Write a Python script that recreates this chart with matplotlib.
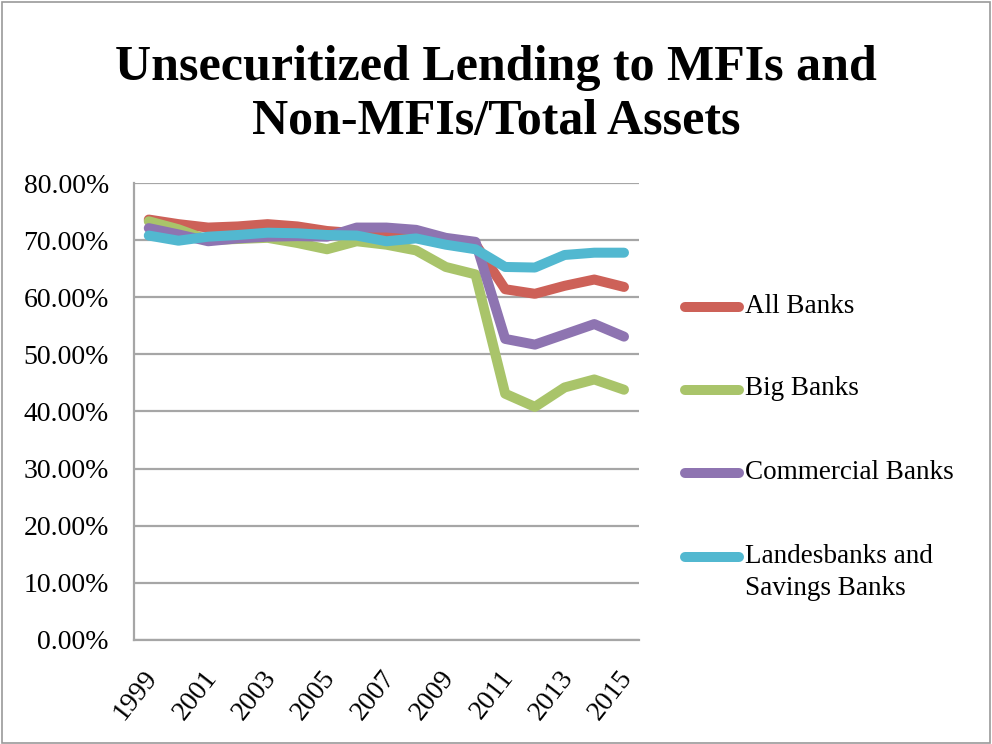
import matplotlib
matplotlib.use("Agg")
import matplotlib.pyplot as plt
from matplotlib.lines import Line2D
from matplotlib.patches import Rectangle
from matplotlib.ticker import FuncFormatter, MultipleLocator
from matplotlib.transforms import ScaledTranslation

years = list(range(1999, 2016))
tick_years = [y for y in years if (y - 1999) % 2 == 0]

all_banks = [73.6, 72.8, 72.2, 72.4, 72.8, 72.4, 71.6, 71.2, 70.9, 71.0, 70.2, 69.3,
             61.4, 60.6, 62.0, 63.1, 61.8]
big_banks = [73.3, 71.9, 70.0, 70.2, 70.4, 69.5, 68.4, 69.8, 69.2, 68.2, 65.3, 64.0,
             43.1, 40.8, 44.2, 45.6, 43.8]
commercial_banks = [72.1, 71.0, 69.8, 70.3, 70.6, 70.7, 70.6, 72.2, 72.2, 71.8, 70.4, 69.7,
                    52.7, 51.7, 53.5, 55.3, 53.1]
landesbanks = [70.8, 69.9, 70.6, 70.9, 71.3, 71.2, 70.9, 70.8, 69.8, 70.3, 69.2, 68.4,
               65.3, 65.2, 67.4, 67.8, 67.8]

series_labels = ["All Banks", "Big Banks", "Commercial Banks", "Landesbanks and\nSavings Banks"]
series_values = [all_banks, big_banks, commercial_banks, landesbanks]
series_colors = ["#CD6158", "#A9C46A", "#8E74B1", "#52B8D0"]

title_text = "Unsecuritized Lending to MFIs and\nNon-MFIs/Total Assets"

serif = ["Liberation Serif", "DejaVu Serif"]
plt.rcParams["font.family"] = serif

fig = plt.figure(figsize=(9.92, 7.44), dpi=100)
fig.patch.set_facecolor("white")
fig.patches.append(Rectangle((0.002, 0.002), 0.996, 0.995, transform=fig.transFigure,
                             fill=False, edgecolor="#9A9A9A", linewidth=1.2))

ax = fig.add_axes([0.135, 0.140, 0.509, 0.614])

x_idx = list(range(len(years)))
for vals, col in zip(series_values, series_colors):
    ax.plot(x_idx, vals, color=col, linewidth=7.2, solid_capstyle="round",
            solid_joinstyle="round", zorder=3)

ax.set_xlim(-0.5, len(years) - 0.5)
ax.set_ylim(0, 80)
ax.yaxis.set_major_locator(MultipleLocator(10))
ax.yaxis.set_major_formatter(FuncFormatter(lambda v, p: f"{v:.2f}%"))
ax.grid(axis="y", color="#A6A6A6", linewidth=1.6, zorder=1)
ax.set_axisbelow(True)

for side in ["top", "right"]:
    ax.spines[side].set_visible(False)
for side in ["left", "bottom"]:
    ax.spines[side].set_color("#A6A6A6")
    ax.spines[side].set_linewidth(1.6)

ax.set_xticks([years.index(y) for y in tick_years])
ax.set_xticklabels([str(y) for y in tick_years], rotation=52, ha="right", va="center",
                   rotation_mode="anchor", fontsize=20)
ax.tick_params(axis="x", length=0, pad=24)
ax.tick_params(axis="y", length=0, pad=18, labelsize=20)
shift = ScaledTranslation(4 / 100, 0, fig.dpi_scale_trans)
for lbl in ax.get_xticklabels():
    lbl.set_transform(lbl.get_transform() + shift)

# legend drawn to the right of the plot
legend_y = [0.587, 0.476, 0.364, 0.251]
for lab, col, yy in zip(series_labels, series_colors, legend_y):
    fig.add_artist(Line2D([0.691, 0.745], [yy, yy], transform=fig.transFigure,
                          color=col, linewidth=7.2, solid_capstyle="round"))
    fig.text(0.751, yy + 0.018, lab, ha="left", va="top", fontsize=19.5,
             linespacing=1.35)

fig.text(0.5, 0.94, title_text, ha="center", va="top", fontsize=36,
         fontweight="bold", linespacing=1.25)

fig.savefig("out.png", dpi=100)
